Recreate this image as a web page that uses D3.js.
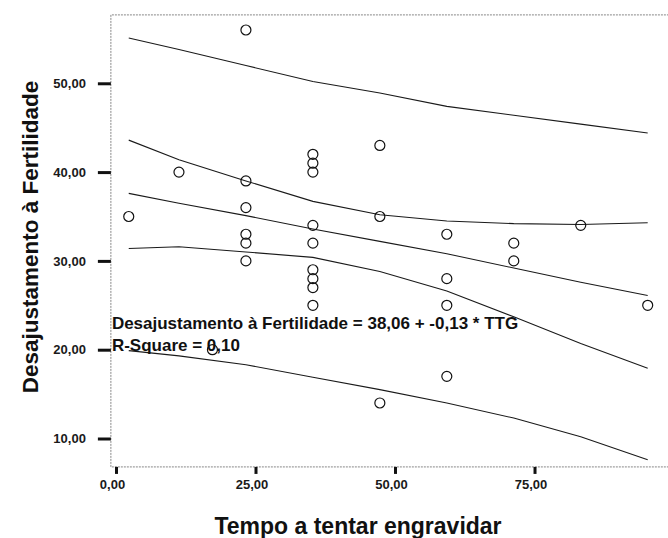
<!DOCTYPE html>
<html>
<head>
<meta charset="utf-8">
<script src="https://d3js.org/d3.v7.min.js"></script>
<style>
  body { margin: 0; background: #fff; }
  svg { display: block; font-family: "Liberation Sans", Arial, sans-serif; }
  .tick text { font-size: 13px; font-weight: bold; fill: #1a1a1a; }
  .title { font-weight: bold; fill: #111; }
  .fitlabel { font-weight: bold; font-size: 17px; fill: #111; }
  .frame { stroke: #888; stroke-width: 1; stroke-dasharray: 2,1; fill: none; }
  .curve { fill: none; stroke: #1a1a1a; stroke-width: 1.1; }
  .pt { fill: none; stroke: #111; stroke-width: 1.2; }
</style>
</head>
<body>
<div id="chart"></div>
<script>
// observations: months trying to conceive (TTG) vs fertility maladjustment
var ttg  = [3, 12, 18, 24, 24, 24, 24, 24, 24, 36, 36, 36, 36, 36, 36, 36, 36, 36, 48, 48, 48, 60, 60, 60, 60, 72, 72, 84, 96];
var desa = [35, 40, 20, 56, 39, 36, 33, 32, 30, 42, 41, 40, 34, 32, 29, 28, 27, 25, 43, 35, 14, 33, 28, 25, 17, 32, 30, 34, 25];

// fitted line and interval curves, read at these x values
var curveX    = [3, 12, 24, 36, 48, 60, 72, 84, 96];
var fitLine   = [37.6, 36.5, 35.1, 33.6, 32.2, 30.8, 29.2, 27.6, 26.1];
var meanUpper = [43.6, 41.4, 39.0, 36.7, 35.2, 34.5, 34.2, 34.1, 34.3];
var meanLower = [31.4, 31.6, 31.0, 30.4, 28.8, 26.6, 23.7, 20.7, 17.9];
var predUpper = [55.1, 53.8, 52.0, 50.2, 48.9, 47.4, 46.4, 45.4, 44.4];
var predLower = [19.9, 19.3, 18.3, 16.9, 15.5, 14.0, 12.3, 10.2, 7.6];

var yTicks = [10, 20, 30, 40, 50];
var xTicks = [0, 25, 50, 75];
var eqText = "Desajustamento à Fertilidade = 38,06 + -0,13 * TTG";
var rsqText = "R-Square = 0,10";
var yTitle = "Desajustamento à Fertilidade";
var xTitle = "Tempo a tentar engravidar";

var W = 668, H = 538;
var svg = d3.select("#chart").append("svg").attr("width", W).attr("height", H);

var x = d3.scaleLinear().domain([0, 96]).range([112, 647.7]);
var y = d3.scaleLinear().domain([10, 56]).range([438.5, 30]);

var fmt = function(d) { return d3.format(".2f")(d).replace(".", ","); };

// plot frame (dotted, open on the right)
var x0 = x(-0.2), x1 = x(99.8), yTop = y(57.7), yBot = y(6.8);
svg.append("path").attr("class", "frame")
  .attr("d", "M" + x1 + "," + yTop + "H" + x0 + "V" + yBot + "H" + x1);

// axes
var yAxis = svg.append("g")
  .attr("transform", "translate(" + x0 + ",0)")
  .call(d3.axisLeft(y).tickValues(yTicks).tickSize(13).tickPadding(12).tickFormat(fmt));
yAxis.select(".domain").remove();
yAxis.selectAll(".tick line").attr("stroke", "#111").attr("stroke-width", 3);

var xAxis = svg.append("g")
  .attr("transform", "translate(0," + yBot + ")")
  .call(d3.axisBottom(x).tickValues(xTicks).tickSize(7).tickPadding(6).tickFormat(fmt));
xAxis.select(".domain").remove();
xAxis.selectAll(".tick line").attr("stroke", "#111").attr("stroke-width", 3)
  .attr("transform", "translate(4,0)");

// curves
var line = d3.line()
  .x(function(d) { return x(d[0]); })
  .y(function(d) { return y(d[1]); });

[predUpper, meanUpper, fitLine, meanLower, predLower].forEach(function(series) {
  svg.append("path").attr("class", "curve")
    .attr("d", line(d3.zip(curveX, series)));
});

// points
svg.selectAll("circle.pt")
  .data(d3.zip(ttg, desa))
  .join("circle")
  .attr("class", "pt")
  .attr("cx", function(d) { return x(d[0]); })
  .attr("cy", function(d) { return y(d[1]); })
  .attr("r", 5);

// fit annotation
svg.append("text").attr("class", "fitlabel")
  .attr("x", x0 + 1).attr("y", 329).text(eqText);
svg.append("text").attr("class", "fitlabel")
  .attr("x", x0 + 1).attr("y", 351).text(rsqText);

// axis titles
svg.append("text").attr("class", "title")
  .attr("transform", "translate(38," + 237 + ") rotate(-90)")
  .attr("text-anchor", "middle")
  .style("font-size", "22.5px")
  .text(yTitle);

svg.append("text").attr("class", "title")
  .attr("x", 358).attr("y", 534)
  .attr("text-anchor", "middle")
  .style("font-size", "23px")
  .text(xTitle);
</script>
</body>
</html>
